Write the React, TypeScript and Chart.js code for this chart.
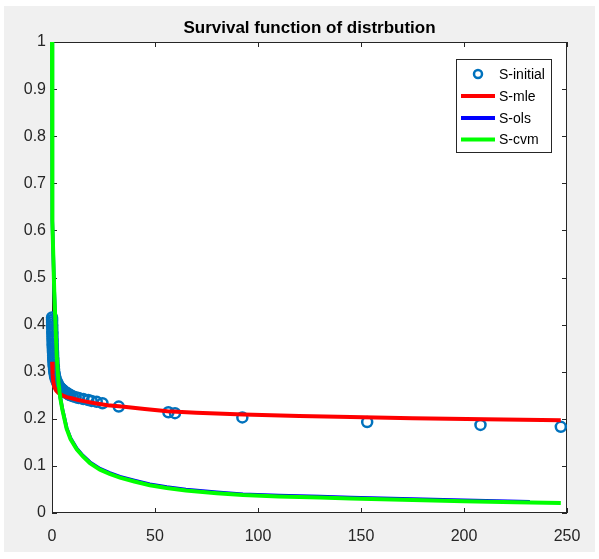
import React, { useEffect, useRef } from 'react';
import { Chart, registerables } from 'chart.js';

Chart.register(...registerables);

const FONT = '"Liberation Sans Narrow", "Liberation Sans", Arial, sans-serif';
const TITLE = 'Survival function of distrbution';

const xTickValues = [0, 50, 100, 150, 200, 250];
const yTickValues = [0, 0.1, 0.2, 0.3, 0.4, 0.5, 0.6, 0.7, 0.8, 0.9, 1];

const seriesLabels = ['S-initial', 'S-mle', 'S-ols', 'S-cvm'];
const seriesColors = ['#0072BD', '#FF0000', '#0000FF', '#00FF00'];

const initialX = [0.02, 0.05, 0.05, 0.1, 0.1, 0.15, 0.15, 0.2, 0.2, 0.25, 0.3, 0.3, 0.35, 0.4, 0.45, 0.5, 0.55, 0.6, 0.65, 0.7, 0.8, 0.9, 1.0, 1.1, 1.3, 1.5, 1.8, 2.2, 2.6, 3.0, 3.5, 4.0, 4.5, 5.0, 5.5, 6.0, 6.5, 7.0, 7.5, 8.0, 8.5, 9.0, 10.0, 11.5, 13.0, 15.2, 17.6, 19.2, 21.7, 24.5, 32.4, 56.5, 59.7, 92.4, 153, 208, 247];
const initialY = [0.415, 0.41, 0.405, 0.40, 0.395, 0.39, 0.385, 0.38, 0.375, 0.37, 0.365, 0.36, 0.355, 0.35, 0.345, 0.34, 0.335, 0.33, 0.325, 0.32, 0.315, 0.31, 0.305, 0.30, 0.295, 0.29, 0.285, 0.28, 0.276, 0.272, 0.269, 0.266, 0.264, 0.262, 0.26, 0.258, 0.256, 0.255, 0.254, 0.252, 0.251, 0.25, 0.248, 0.246, 0.244, 0.242, 0.240, 0.238, 0.236, 0.233, 0.226, 0.214, 0.212, 0.203, 0.193, 0.187, 0.183];

const mleX = [0.05, 0.3, 0.6, 1.1, 2, 3.1, 5, 7.1, 10, 12.8, 16, 20.9, 27, 33.8, 45, 56, 70, 93, 120, 145, 175, 210, 247];
const mleY = [0.321, 0.295, 0.28, 0.268, 0.26, 0.255, 0.25, 0.246, 0.243, 0.24, 0.237, 0.233, 0.229, 0.226, 0.221, 0.216, 0.213, 0.209, 0.206, 0.204, 0.201, 0.199, 0.197];

const olsX = [0, 0.05, 0.15, 0.3, 0.6, 1.1, 1.6, 2.2, 3.1, 4, 5, 7.1, 9, 12, 15, 18.4, 23.3, 28, 33, 40, 47.5, 55.7, 65, 80, 92.7, 110, 130, 145, 170, 200, 232];
const olsY = [1, 0.86, 0.72, 0.62, 0.55, 0.47, 0.41, 0.34, 0.28, 0.246, 0.222, 0.181, 0.159, 0.137, 0.122, 0.108, 0.094, 0.085, 0.077, 0.069, 0.061, 0.055, 0.05, 0.044, 0.04, 0.037, 0.035, 0.033, 0.03, 0.027, 0.024];

const cvmX = [0, 0.05, 0.15, 0.3, 0.6, 1.1, 1.6, 2.2, 3.1, 4, 5, 7.1, 9, 12, 15, 18.4, 23.3, 28, 33, 40, 47.5, 55.7, 65, 80, 92.7, 110, 130, 145, 170, 200, 225, 247];
const cvmY = [1, 0.86, 0.72, 0.62, 0.55, 0.47, 0.41, 0.34, 0.28, 0.245, 0.22, 0.179, 0.157, 0.135, 0.12, 0.106, 0.092, 0.083, 0.075, 0.067, 0.059, 0.053, 0.048, 0.042, 0.038, 0.035, 0.033, 0.031, 0.028, 0.025, 0.023, 0.021];

const zip = (xs: number[], ys: number[]) => xs.map((x, i) => ({ x, y: ys[i] }));

const AXIS_COLOR = '#262626';

const framePlugin = {
  id: 'matlabFrame',
  beforeDraw(chart: any) {
    const ctx = chart.ctx;
    const { left, top, right, bottom } = chart.chartArea;
    ctx.save();
    ctx.fillStyle = '#ffffff';
    ctx.fillRect(0, 0, chart.width, chart.height);
    ctx.fillStyle = '#f0f0f0';
    ctx.fillRect(4, 6, 591, 546);
    ctx.fillStyle = '#ffffff';
    ctx.fillRect(left, top, right - left, bottom - top);
    ctx.fillStyle = '#000000';
    ctx.font = `bold 17px ${FONT}`;
    ctx.textAlign = 'center';
    ctx.textBaseline = 'alphabetic';
    ctx.fillText(TITLE, (left + right) / 2, 33);
    ctx.restore();
  },
  beforeDatasetsDraw(chart: any) {
    const ctx = chart.ctx;
    const { left, top, right, bottom } = chart.chartArea;
    const xs = chart.scales.x;
    const ys = chart.scales.y;
    ctx.save();
    ctx.strokeStyle = AXIS_COLOR;
    ctx.lineWidth = 1;
    ctx.strokeRect(left + 0.5, top + 0.5, right - left - 1, bottom - top - 1);
    ctx.beginPath();
    xTickValues.forEach((v) => {
      const px = Math.round(xs.getPixelForValue(v)) + 0.5;
      ctx.moveTo(px, bottom);
      ctx.lineTo(px, bottom - 5);
      ctx.moveTo(px, top);
      ctx.lineTo(px, top + 5);
    });
    yTickValues.forEach((v) => {
      const py = Math.round(ys.getPixelForValue(v)) + 0.5;
      ctx.moveTo(left, py);
      ctx.lineTo(left + 5, py);
      ctx.moveTo(right, py);
      ctx.lineTo(right - 5, py);
    });
    ctx.stroke();
    ctx.restore();
  },
  afterDatasetsDraw(chart: any) {
    const ctx = chart.ctx;
    const bx = 456, by = 59, bw = 95, bh = 93;
    ctx.save();
    ctx.fillStyle = '#ffffff';
    ctx.fillRect(bx, by, bw, bh);
    ctx.strokeStyle = AXIS_COLOR;
    ctx.lineWidth = 1;
    ctx.strokeRect(bx + 0.5, by + 0.5, bw, bh);
    const rows = [74, 96, 118, 139.5];
    chart.data.datasets.forEach((ds: any, i: number) => {
      const y = rows[i];
      if (i === 0) {
        ctx.beginPath();
        ctx.arc(478, y, 4, 0, Math.PI * 2);
        ctx.strokeStyle = ds.borderColor;
        ctx.lineWidth = 2.5;
        ctx.stroke();
      } else {
        ctx.beginPath();
        ctx.moveTo(461, y);
        ctx.lineTo(495, y);
        ctx.strokeStyle = ds.borderColor;
        ctx.lineWidth = 4;
        ctx.stroke();
      }
      ctx.fillStyle = '#000000';
      ctx.font = `14px ${FONT}`;
      ctx.textAlign = 'left';
      ctx.textBaseline = 'middle';
      ctx.fillText(ds.label, 499, y + 1);
    });
    ctx.restore();
  },
};

export default function App() {
  const canvasRef = useRef<HTMLCanvasElement | null>(null);

  useEffect(() => {
    document.body.style.margin = '0';
    const canvas = canvasRef.current;
    if (!canvas) return;
    const chart = new Chart(canvas, {
      type: 'scatter',
      data: {
        datasets: [
          {
            label: seriesLabels[0],
            data: zip(initialX, initialY),
            borderColor: seriesColors[0],
            backgroundColor: 'rgba(0,0,0,0)',
            pointRadius: 5,
            pointBorderWidth: 2.5,
            showLine: false,
            clip: false,
            order: 4,
          },
          {
            label: seriesLabels[1],
            data: zip(mleX, mleY),
            borderColor: seriesColors[1],
            backgroundColor: seriesColors[1],
            borderWidth: 4,
            pointRadius: 0,
            showLine: true,
            tension: 0,
            clip: false,
            order: 3,
          },
          {
            label: seriesLabels[2],
            data: zip(olsX, olsY),
            borderColor: seriesColors[2],
            backgroundColor: seriesColors[2],
            borderWidth: 3.5,
            pointRadius: 0,
            showLine: true,
            tension: 0,
            clip: false,
            order: 2,
          },
          {
            label: seriesLabels[3],
            data: zip(cvmX, cvmY),
            borderColor: seriesColors[3],
            backgroundColor: seriesColors[3],
            borderWidth: 4,
            pointRadius: 0,
            showLine: true,
            tension: 0,
            clip: false,
            order: 1,
          },
        ],
      },
      options: {
        responsive: false,
        animation: false,
        layout: { padding: { top: 42, right: 32, left: 0, bottom: 0 } },
        plugins: {
          legend: { display: false },
          title: { display: false },
          tooltip: { enabled: false },
        },
        scales: {
          x: {
            type: 'linear',
            min: 0,
            max: 250,
            afterBuildTicks: (scale: any) => {
              scale.ticks = xTickValues.map((v) => ({ value: v }));
            },
            afterFit: (scale: any) => {
              scale.height = 46;
            },
            grid: { display: false, drawTicks: false },
            border: { display: false },
            ticks: {
              color: AXIS_COLOR,
              font: { family: FONT, size: 16 },
              padding: 14,
              maxRotation: 0,
              autoSkip: false,
              callback: (v: any) => String(v),
            },
          },
          y: {
            type: 'linear',
            min: 0,
            max: 1,
            afterBuildTicks: (scale: any) => {
              scale.ticks = yTickValues.map((v) => ({ value: v }));
            },
            afterFit: (scale: any) => {
              scale.width = 52;
            },
            grid: { display: false, drawTicks: false },
            border: { display: false },
            ticks: {
              color: AXIS_COLOR,
              font: { family: FONT, size: 16 },
              padding: 6,
              autoSkip: false,
              callback: (v: any) => String(Number(Number(v).toFixed(1))),
            },
          },
        },
      },
      plugins: [framePlugin],
    } as any);
    return () => chart.destroy();
  }, []);

  return <canvas ref={canvasRef} width={599} height={559} style={{ display: 'block' }} />;
}
